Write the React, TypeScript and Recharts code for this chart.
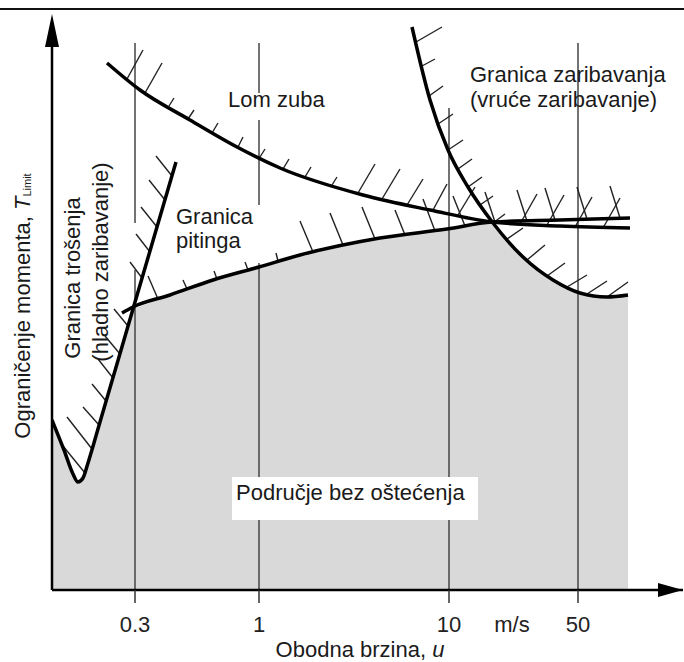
import React from 'react';
import { ComposedChart, Area, Line, XAxis, YAxis, ReferenceLine, ReferenceDot } from 'recharts';

// x = position along the (schematic, log-like) speed axis, y = torque limit; both in relative units
const tickPositions = [83, 207, 397, 460, 526];
const tickLabels = ['0.3', '1', '10', 'm/s', '50'];

// Granica trošenja (hladno zaribavanje)
const trosenje = [
  { x: 0, y: 170 }, { x: 12, y: 140 }, { x: 21, y: 116 }, { x: 26, y: 108 }, { x: 31, y: 112 },
  { x: 36, y: 127 }, { x: 48, y: 168 }, { x: 81, y: 281 }, { x: 124, y: 428 },
];

// Granica pitinga
const piting = [
  { x: 70, y: 277 }, { x: 81, y: 283 }, { x: 118, y: 295 }, { x: 161, y: 310 }, { x: 207, y: 323 },
  { x: 248, y: 335 }, { x: 328, y: 352 }, { x: 395, y: 361 }, { x: 440, y: 368 }, { x: 508, y: 370 },
  { x: 578, y: 372 },
];

// Lom zuba
const lomZuba = [
  { x: 55, y: 527 }, { x: 88, y: 500 }, { x: 138, y: 470 }, { x: 185, y: 443 }, { x: 228, y: 422 },
  { x: 311, y: 395 }, { x: 378, y: 380 }, { x: 440, y: 368 }, { x: 508, y: 364 }, { x: 578, y: 362 },
];

// Granica zaribavanja (vruće zaribavanje)
const zaribavanje = [
  { x: 360, y: 563 }, { x: 378, y: 490 }, { x: 396, y: 440 }, { x: 416, y: 403 }, { x: 441, y: 367 },
  { x: 471, y: 333 }, { x: 501, y: 310 }, { x: 528, y: 297 }, { x: 555, y: 293 }, { x: 576, y: 295 },
];

// hatch strokes on the damaged side: [x1, y1, x2, y2]
const hatchTrosenje = [
  [120, 414, 104, 434], [113, 390, 97, 410], [105, 363, 89, 383], [98, 338, 84, 356], [90, 312, 78, 328],
  [76, 264, 62, 281], [68, 236, 53, 254], [61, 212, 46, 231], [54, 189, 40, 206], [47, 165, 31, 183],
  [40, 141, 15, 173], [33, 117, 11, 144],
];
const hatchPiting = [
  [106, 291, 96, 314], [135, 301, 131, 310], [165, 311, 162, 319], [196, 320, 193, 328], [226, 329, 224, 337],
  [261, 338, 248, 369], [291, 345, 278, 377], [323, 351, 310, 383], [353, 355, 343, 380], [383, 359, 371, 391],
  [413, 364, 401, 394], [443, 368, 433, 398], [475, 369, 465, 400], [503, 370, 493, 402], [535, 371, 525, 403],
  [568, 372, 558, 404],
];
const hatchLom = [
  [75, 511, 91, 540], [93, 497, 110, 527], [117, 484, 122, 492], [136, 471, 142, 480], [160, 457, 166, 467],
  [186, 443, 191, 453], [208, 433, 213, 441], [231, 421, 237, 431], [253, 413, 259, 423], [280, 405, 285, 413],
  [306, 397, 323, 426], [330, 391, 348, 421], [355, 385, 371, 411], [381, 380, 395, 406], [406, 375, 423, 403],
  [468, 366, 485, 396], [495, 365, 512, 395], [523, 363, 540, 393], [551, 362, 568, 392],
];
const hatchZarib = [
  [364, 548, 390, 563], [370, 524, 383, 531], [377, 494, 391, 504], [386, 466, 401, 476], [396, 440, 411, 450],
  [406, 421, 420, 431], [416, 403, 430, 413], [428, 385, 441, 394], [441, 367, 453, 376], [455, 351, 471, 362],
  [475, 330, 493, 345], [495, 314, 513, 327], [515, 303, 535, 315], [535, 296, 555, 309], [555, 293, 576, 308],
];

// lower envelope = region without damage
const bezOstecenja = [
  ...trosenje.filter((p) => p.x <= 81),
  ...piting.filter((p) => p.x > 81 && p.x <= 440),
  ...zaribavanje.filter((p) => p.x > 441),
];

// vertical guide lines (broken where labels sit)
const guides = [
  { x: 83, spans: [[547, 367], [320, 0]] },
  { x: 207, spans: [[547, 497], [470, 385], [327, 113], [70, 0]] },
  { x: 397, spans: [[482, 113], [70, 0]] },
  { x: 526, spans: [[547, 0]] },
];

const font = "'Liberation Sans', Arial, Helvetica, sans-serif";
const ink = '#1a1a1a';
const fs = 22;

function SpeedTick(props: any) {
  const { x, y, payload } = props;
  const label = tickLabels[tickPositions.indexOf(payload.value)];
  return (
    <g>
      {label !== 'm/s' && <line x1={x} x2={x} y1={y - 13} y2={y} stroke="#333" strokeWidth={1.5} />}
      <text x={x} y={y + 29} textAnchor="middle" fontFamily={font} fontSize={fs} fill="#222">
        {label}
      </text>
    </g>
  );
}

const txt = (lines: string[], gap = 24, anchor: 'start' | 'middle' = 'start') => (p: any) => (
  <text fontFamily={font} fontSize={fs} fill={ink} textAnchor={anchor}>
    {lines.map((l, i) => (
      <tspan key={i} x={p.cx} y={p.cy + i * gap}>{l}</tspan>
    ))}
  </text>
);

const vtxt = (line: string) => (p: any) => (
  <text
    x={p.cx}
    y={p.cy}
    transform={`rotate(-90 ${p.cx} ${p.cy})`}
    textAnchor="middle"
    dominantBaseline="central"
    fontFamily={font}
    fontSize={fs}
    fill={ink}
  >
    {line}
  </text>
);

const hatch = (h: number[][], key: string) =>
  h.map(([x1, y1, x2, y2], i) => (
    <ReferenceLine
      key={`${key}-${i}`}
      segment={[{ x: x1, y: y1 }, { x: x2, y: y2 }]}
      stroke="#222"
      strokeWidth={1.4}
      ifOverflow="visible"
    />
  ));

export default function App() {
  return (
    <div style={{ position: 'fixed', left: 0, top: 0, width: 684, height: 662, background: '#fff' }}>
      <div style={{ position: 'absolute', left: 0, top: 8, width: 684, height: 2, background: '#111' }} />
      <ComposedChart width={684} height={662} margin={{ top: 14, right: 1, bottom: 12, left: 52 }}>
        <XAxis
          type="number"
          dataKey="x"
          domain={[0, 631]}
          allowDataOverflow
          ticks={tickPositions}
          interval={0}
          height={60}
          tickSize={13}
          tickMargin={0}
          tickLine={false}
          tick={<SpeedTick />}
          axisLine={{ stroke: '#000', strokeWidth: 2.5 }}
        />
        <YAxis type="number" domain={[0, 576]} allowDataOverflow hide />
        <Area
          data={bezOstecenja}
          dataKey="y"
          type="linear"
          fill="#d9d9d9"
          fillOpacity={1}
          stroke="none"
          isAnimationActive={false}
        />
        {guides.flatMap((g) =>
          g.spans.map(([a, b], i) => (
            <ReferenceLine
              key={`g-${g.x}-${i}`}
              segment={[{ x: g.x, y: a }, { x: g.x, y: b }]}
              stroke="#444"
              strokeWidth={1.5}
            />
          ))
        )}
        {hatch(hatchTrosenje, 'ht')}
        {hatch(hatchPiting, 'hp')}
        {hatch(hatchLom, 'hl')}
        {hatch(hatchZarib, 'hz')}
        <Line data={trosenje} dataKey="y" type="monotone" stroke="#000" strokeWidth={3.5} dot={false} isAnimationActive={false} />
        <Line data={piting} dataKey="y" type="monotone" stroke="#000" strokeWidth={3.5} dot={false} isAnimationActive={false} />
        <Line data={lomZuba} dataKey="y" type="monotone" stroke="#000" strokeWidth={3.5} dot={false} isAnimationActive={false} />
        <Line data={zaribavanje} dataKey="y" type="monotone" stroke="#000" strokeWidth={3.5} dot={false} isAnimationActive={false} />

        {/* vertical axis with arrows */}
        <ReferenceLine
          segment={[{ x: 0, y: 0 }, { x: 0, y: 560 }]}
          stroke="#000"
          strokeWidth={2.5}
          ifOverflow="visible"
        />
        <ReferenceDot
          x={631}
          y={0}
          ifOverflow="visible"
          shape={(p: any) => <polygon points={`${p.cx},${p.cy} ${p.cx - 25},${p.cy - 7} ${p.cx - 25},${p.cy + 7}`} fill="#000" />}
        />
        <ReferenceDot
          x={0}
          y={576}
          ifOverflow="visible"
          shape={(p: any) => <polygon points={`${p.cx},${p.cy} ${p.cx - 7},${p.cy + 33} ${p.cx + 7},${p.cy + 33}`} fill="#000" />}
        />

        {/* labels */}
        <ReferenceDot x={176} y={483} ifOverflow="visible" shape={txt(['Lom zuba'])} />
        <ReferenceDot x={124} y={366} ifOverflow="visible" shape={txt(['Granica', 'pitinga'])} />
        <ReferenceDot x={418} y={508} ifOverflow="visible" shape={txt(['Granica zaribavanja', '(vruće zaribavanje)'], 25)} />
        <ReferenceDot x={20} y={312} ifOverflow="visible" shape={vtxt('Granica trošenja')} />
        <ReferenceDot x={48} y={328} ifOverflow="visible" shape={vtxt('(hladno zaribavanje)')} />
        <ReferenceDot
          x={184}
          y={90}
          ifOverflow="visible"
          shape={(p: any) => (
            <g>
              <rect x={p.cx - 4} y={p.cy - 23} width={246} height={43} fill="#fff" />
              <text x={p.cx} y={p.cy} fontFamily={font} fontSize={fs} fill={ink}>
                Područje bez oštećenja
              </text>
            </g>
          )}
        />
        <ReferenceDot
          x={308}
          y={-67}
          ifOverflow="visible"
          shape={(p: any) => (
            <text x={p.cx} y={p.cy} textAnchor="middle" fontFamily={font} fontSize={fs} fill={ink}>
              Obodna brzina, <tspan fontStyle="italic">u</tspan>
            </text>
          )}
        />
        <ReferenceDot
          x={-30}
          y={284}
          ifOverflow="visible"
          shape={(p: any) => (
            <text
              x={p.cx}
              y={p.cy}
              transform={`rotate(-90 ${p.cx} ${p.cy})`}
              textAnchor="middle"
              dominantBaseline="central"
              fontFamily={font}
              fontSize={fs}
              fill={ink}
            >
              Ograničenje momenta, <tspan fontStyle="italic">T</tspan>
              <tspan fontSize={11} dy={5}>Limit</tspan>
            </text>
          )}
        />
      </ComposedChart>
    </div>
  );
}
